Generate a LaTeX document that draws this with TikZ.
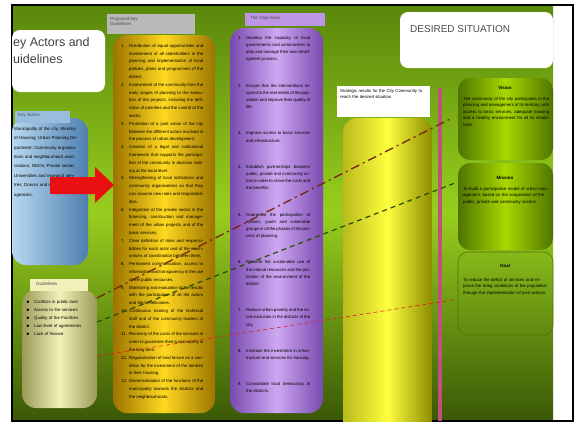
\documentclass[tikz,border=0pt]{standalone}
\usepackage{fontspec}
\setmainfont{Liberation Sans}
\definecolor{bgtop}{HTML}{5A880C}
\definecolor{bgmid}{HTML}{98CE1E}
\definecolor{bgbot}{HTML}{3A5806}
\definecolor{golddark}{HTML}{9C7400}
\definecolor{goldlight}{HTML}{FFD820}
\definecolor{purpdark}{HTML}{7A4AB0}
\definecolor{purplight}{HTML}{CDA8F2}
\definecolor{bluedark}{HTML}{4F7FB0}
\definecolor{bluelight}{HTML}{B8D8F0}
\definecolor{khakidark}{HTML}{9A9A58}
\definecolor{khakilight}{HTML}{F2F0B8}
\definecolor{yelldark}{HTML}{8C8C00}
\definecolor{yelllight}{HTML}{FFFF40}
\definecolor{grndark}{HTML}{4E7400}
\definecolor{grnlight}{HTML}{A8D800}
\definecolor{pinkline}{HTML}{C0507E}
\definecolor{linebrown}{HTML}{7A2410}
\definecolor{linegreen}{HTML}{264E00}
\definecolor{linered}{HTML}{D82020}
\definecolor{arrowred}{HTML}{E81010}
\newcommand{\gitem}[2]{\hangindent=8pt\hangafter=1\noindent\makebox[8pt][l]{#1}#2\par}
\tikzset{
  tiny/.style={font=\fontsize{4.3}{6.5}\selectfont, inner sep=0pt, anchor=north west, align=justify},
  labelbox/.style={font=\fontsize{4.5}{5.5}\selectfont, inner sep=2pt, anchor=north west, align=left},
  brownline/.style={draw=linebrown, line width=1.3pt, dash pattern=on 9pt off 4pt on 2pt off 4pt},
  greenline/.style={draw=linegreen, line width=1.2pt, dash pattern=on 5pt off 4pt},
  redline/.style={draw=linered, line width=0.6pt, dash pattern=on 4pt off 3pt},
  boxtitle/.style={font=\fontsize{4.5}{5}\selectfont\bfseries, inner sep=0pt},
}
\begin{document}
\begin{tikzpicture}[x=1pt,y=-1pt]
\useasboundingbox (0,0) rectangle (576,424);
\fill[white] (0,0) rectangle (576,424);
% background
\shade[top color=bgtop, bottom color=bgbot, middle color=bgmid] (12,5) rectangle (553,421);
\draw[black, line width=1.5pt] (12,5) rectangle (573,421);

% left title
\fill[white, rounded corners=8pt] (12,30) rectangle (105,92);
\node[font=\fontsize{12.5}{17}\selectfont, anchor=north west, align=left, inner sep=0pt, text=black!75] (ttl) at (13,37) {ey Actors and\\uidelines};

% gold column
\shade[left color=golddark, right color=golddark, middle color=goldlight, rounded corners=14pt] (113,35) rectangle (215,413);
\fill[gray!55] (107,14) rectangle (195,34);
\node[labelbox, text=black!70] (glab) at (108,15) {Proposed key\\Guidelines};
\node[tiny, text width=82pt, font=\fontsize{4.3}{7.8}\selectfont] (gtxt) at (121,44) {%
\gitem{1.}{Distribution of equal opportunities and involvement of all stakeholders in the planning and implementation of local policies, plans and programmes of the district.}
\gitem{2.}{Involvement of the community from the early stages of planning to the execution of the projects, including the definition of priorities and the control of the works.}
\gitem{3.}{Promotion of a joint vision of the city between the different actors involved in the process of urban development.}
\gitem{4.}{Creation of a legal and institutional framework that supports the participation of the community in decision making at the local level.}
\gitem{5.}{Strengthening of local institutions and community organisations so that they can assume new roles and responsibilities.}
\gitem{6.}{Integration of the private sector in the financing, construction and management of the urban projects and of the basic services.}
\gitem{7.}{Clear definition of roles and responsibilities for each actor and of the mechanisms of coordination between them.}
\gitem{8.}{Permanent communication, access to information and transparency in the use of the public resources.}
\gitem{9.}{Monitoring and evaluation of the results with the participation of all the actors and the beneficiaries.}
\gitem{10.}{Continuous training of the technical staff and of the community leaders of the district.}
\gitem{11.}{Recovery of the costs of the services in order to guarantee their sustainability in the long term.}
\gitem{12.}{Regularisation of land tenure as a condition for the investment of the families in their housing.}
\gitem{13.}{Decentralisation of the functions of the municipality towards the districts and the neighbourhoods.}};

% purple column
\shade[left color=purpdark, right color=purpdark, middle color=purplight, rounded corners=14pt] (230,28) rectangle (323,413);
\fill[purplight!80!purpdark] (245,13) rectangle (325,26);
\node[labelbox, text=black!70] (plab) at (248,14) {The Objectives};
\node[tiny, text width=72pt, font=\fontsize{4.3}{7.2}\selectfont] (ptxt) at (238,36) {%
\gitem{1.}{Develop the capacity of local governments and communities to plan and manage their own development process.}\vspace{19pt}
\gitem{2.}{Ensure that the interventions respond to the real needs of the population and improve their quality of life.}\vspace{19pt}
\gitem{3.}{Improve access to basic services and infrastructure.}\vspace{19pt}
\gitem{4.}{Establish partnerships between public, private and community actors in order to share the costs and the benefits.}\vspace{19pt}
\gitem{5.}{Guarantee the participation of women, youth and vulnerable groups in all the phases of the process of planning.}\vspace{19pt}
\gitem{6.}{Promote the sustainable use of the natural resources and the protection of the environment of the district.}\vspace{19pt}
\gitem{7.}{Reduce urban poverty and the social exclusion in the districts of the city.}\vspace{19pt}
\gitem{8.}{Increase the investment in infrastructure and services for housing.}\vspace{19pt}
\gitem{9.}{Consolidate local democracy in the districts.}};

% blue shape
\shade[left color=bluelight, right color=bluedark, rounded corners=14pt] (12,118) rectangle (88,265);
\fill[bluelight!70!bluedark] (15,111) rectangle (70,123);
\node[labelbox, text=black!70] (blab) at (16,111.5) {Key Actors};
\node[tiny, text width=64pt, font=\fontsize{4.4}{9.4}\selectfont, align=left] (btxt) at (14,127) {%
Municipality of the city; Ministry of Housing; Urban Planning Department; Community organisations and neighbourhood associations; NGOs; Private sector; Universities and research centres; Donors and international agencies.};

% red arrow
\fill[arrowred] (50,177) -- (95,177) -- (95,167) -- (114,185) -- (95,203) -- (95,194) -- (50,194) -- cycle;

% khaki shape
\shade[left color=khakidark, right color=khakidark, middle color=khakilight, rounded corners=14pt] (22,290) rectangle (97,408);
\fill[khakilight] (30,279) rectangle (88,291);
\node[labelbox, text=black!70] (klab) at (34,280) {Guidelines};
\node[tiny, text width=60pt, align=left, font=\fontsize{4.3}{8}\selectfont] (ktxt) at (26,300) {%
\gitem{$\bullet$}{Conflicts in public land}
\gitem{$\bullet$}{Access to the services}
\gitem{$\bullet$}{Quality of the Facilities}
\gitem{$\bullet$}{Low level of agreements}
\gitem{$\bullet$}{Lack of finance}};

% desired situation
\fill[white, rounded corners=8pt] (400,12) rectangle (553,68);
\node[font=\fontsize{10}{12}\selectfont, anchor=north west, inner sep=0pt, text=black!70] (dtitle) at (410,25) {DESIRED SITUATION};

\fill[white] (337,86) rectangle (430,117);
\node[tiny, text width=86pt, align=left, font=\fontsize{4.3}{6.2}\selectfont] (wtxt) at (340,89) {Strategic results for the City Community to reach the desired situation};

% right yellow column
\begin{scope}
\clip (12,5) rectangle (553,421);
\shade[left color=yelldark!60!yelllight, right color=yelldark, middle color=yelllight, rounded corners=14pt] (343,118) rectangle (432,440);
\end{scope}

% pink line
\fill[pinkline] (438,88) rectangle (442,421);

% right green boxes
\shade[left color=grndark, right color=grndark, middle color=grnlight, rounded corners=12pt] (458,78) rectangle (553,160);
\node[boxtitle] (vt) at (505,88) {Vision};
\node[tiny, text width=86pt] (vtxt) at (463,97) {The community of the city participates in the planning and management of its territory, with access to basic services, adequate housing and a healthy environment for all its inhabitants.};
\shade[left color=grndark, right color=grndark, middle color=grnlight, rounded corners=12pt] (458,163) rectangle (553,250);
\node[boxtitle] (mt) at (505,178) {Mission};
\node[tiny, text width=86pt, align=left] (mtxt) at (463,187) {To build a participative model of urban management, based on the cooperation of the public, private and community sectors.};
\draw[grndark, line width=0.6pt, rounded corners=10pt] (458,252) rectangle (553,335);
\node[boxtitle] (gt) at (505,266) {Goal};
\node[tiny, text width=86pt, align=left] (gtxt2) at (463,278) {To reduce the deficit of services and improve the living conditions of the population through the implementation of joint actions.};

% connectors
\coordinate (a1) at (97,298);
\coordinate (b1) at (452,118);
\coordinate (a2) at (97,322);
\coordinate (b2) at (455,183);
\coordinate (a3) at (97,356);
\coordinate (b3) at (453,300);
\draw[brownline] (a1) -- (b1);
\draw[greenline] (a2) -- (b2);
\draw[redline] (a3) -- (b3);
\end{tikzpicture}
\end{document}
